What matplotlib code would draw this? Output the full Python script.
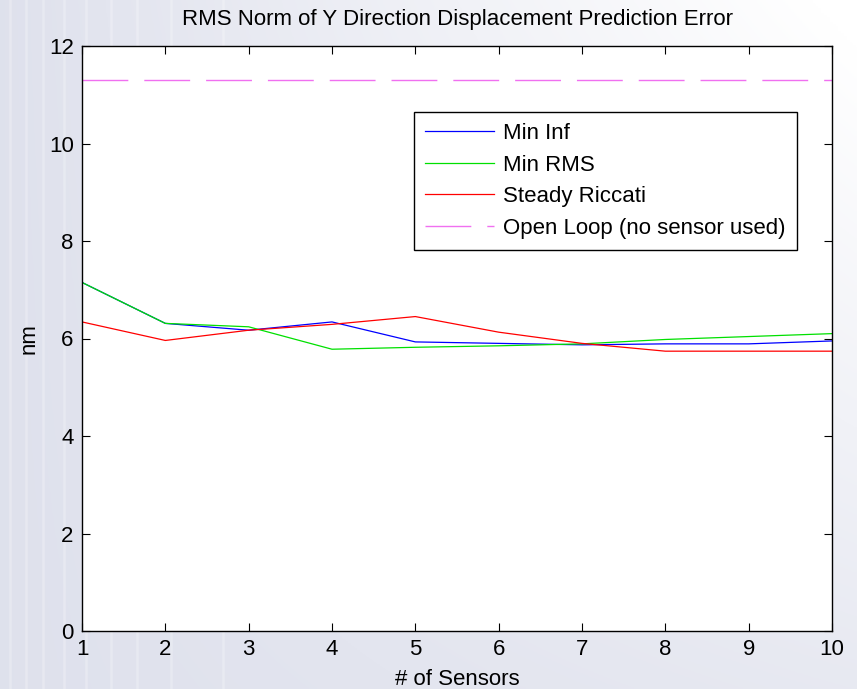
import numpy as np
import matplotlib
matplotlib.use('Agg')
import matplotlib.pyplot as plt

plt.rcParams['font.family'] = ['Liberation Sans', 'DejaVu Sans']

# number of sensors and RMS error (nm)
sensors = [1, 2, 3, 4, 5, 6, 7, 8, 9, 10]
min_inf = [7.15, 6.31, 6.17, 6.34, 5.93, 5.90, 5.87, 5.89, 5.89, 5.95]
min_rms = [7.15, 6.31, 6.24, 5.78, 5.82, 5.85, 5.89, 5.98, 6.04, 6.10]
steady_riccati = [6.34, 5.96, 6.17, 6.29, 6.45, 6.13, 5.90, 5.74, 5.74, 5.74]
open_loop = 11.30

fig = plt.figure(figsize=(8.57, 6.89), dpi=100)

# light lavender background fading to white toward the upper right
bg = fig.add_axes([0, 0, 1, 1], zorder=-10)
gx, gy = np.meshgrid(np.linspace(0, 1, 300), np.linspace(0, 1, 300))
w = np.clip(0.1 + 0.95 * gx * (1 - 0.75 * gy), 0, 1)
base = np.array([0.86, 0.87, 0.92])
img = base[None, None, :] * (1 - w[..., None]) + w[..., None]
bg.imshow(img, aspect='auto', extent=[0, 1, 0, 1], origin='upper')
for xs in [0.012, 0.03, 0.05, 0.075, 0.1, 0.13, 0.16, 0.2, 0.26]:
    bg.axvline(xs, color='white', lw=1.8, alpha=0.25)
bg.set_xlim(0, 1)
bg.set_ylim(0, 1)
bg.axis('off')

ax = fig.add_axes([82 / 857, 58 / 689, 750 / 857, 585 / 689])
ax.set_facecolor('white')
ax.plot(sensors, min_inf, color='#0000ff', lw=0.9, label='Min Inf')
ax.plot(sensors, min_rms, color='#00e000', lw=0.9, label='Min RMS')
ax.plot(sensors, steady_riccati, color='#ff0000', lw=0.9, label='Steady Riccati')
ol, = ax.plot([sensors[0], sensors[-1]], [open_loop, open_loop], color='#f070f0',
              lw=1.0, label='Open Loop (no sensor used)')
ol.set_dashes((33, 11.5))

ax.set_xlim(1, 10)
ax.set_ylim(0, 12)
ax.set_xticks(sensors)
ax.set_yticks([0, 2, 4, 6, 8, 10, 12])
ax.tick_params(direction='in', length=6, width=0.8, labelsize=16, pad=6,
               top=True, right=True)
for s in ax.spines.values():
    s.set_linewidth(1.0)

ax.set_title('RMS Norm of Y Direction Displacement Prediction Error', fontsize=16, pad=15)
ax.set_xlabel('# of Sensors', fontsize=16, labelpad=6)
ax.set_ylabel('nm', fontsize=16, labelpad=7)

leg = ax.legend(loc='upper right', bbox_to_anchor=(0.953, 0.887), borderaxespad=0,
                fontsize=16, handlelength=3.1, handletextpad=0.4, labelspacing=0.47,
                fancybox=False, framealpha=1, edgecolor='black', borderpad=0.5)
leg.get_frame().set_linewidth(1.0)

fig.savefig('out.png', dpi=100)
